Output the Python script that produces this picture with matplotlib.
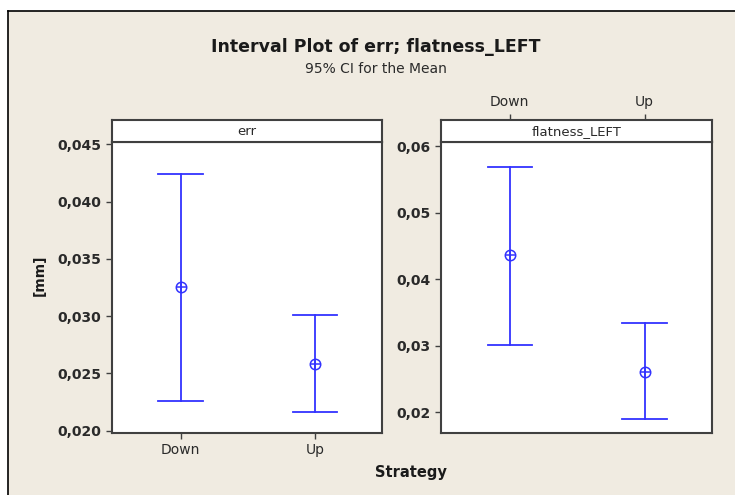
import matplotlib.pyplot as plt
from matplotlib.lines import Line2D
from matplotlib.patches import Rectangle
from matplotlib.ticker import FuncFormatter

# data
groups = ['Down', 'Up']
panels = ['err', 'flatness_LEFT']
means = [[0.03255, 0.02584], [0.04363, 0.0261]]
lower = [[0.0226, 0.02161], [0.03016, 0.0190]]
upper = [[0.04246, 0.03012], [0.05689, 0.03346]]
yticks = [[0.020, 0.025, 0.030, 0.035, 0.040, 0.045],
          [0.02, 0.03, 0.04, 0.05, 0.06]]
ydecimals = [3, 2]
ylims = [(0.0198, 0.04526), (0.01685, 0.06075)]

W, H = 735, 495
bg = '#f0ebe1'
blue = '#3333ff'
frame = '#404040'
txt = '#2a2a2a'

fig = plt.figure(figsize=(W / 100, H / 100), dpi=100, facecolor='white')
fig.add_artist(Rectangle((8 / W, 0), 1, (H - 11) / H, transform=fig.transFigure,
                         facecolor=bg, edgecolor='none', zorder=-10))
fig.add_artist(Line2D([8 / W, 8 / W], [0, (H - 11) / H], transform=fig.transFigure,
                      color='black', lw=1.2))
fig.add_artist(Line2D([8 / W, 1], [(H - 11) / H, (H - 11) / H], transform=fig.transFigure,
                      color='black', lw=1.2))


def box(x0, x1, ytop, ybot):
    return [x0 / W, (H - ybot) / H, (x1 - x0) / W, (ybot - ytop) / H]


lefts = [(112, 382), (441, 712)]
for i, name in enumerate(panels):
    x0, x1 = lefts[i]
    ax = fig.add_axes(box(x0, x1, 141.5, 433))
    st = fig.add_axes(box(x0, x1, 119.5, 141.5))
    x = range(len(groups))
    for j in x:
        ax.plot([j, j], [lower[i][j], upper[i][j]], color=blue, lw=1.3)
        for yv in (lower[i][j], upper[i][j]):
            ax.plot([j - 0.165, j + 0.165], [yv, yv], color=blue, lw=1.3)
    ax.plot(x, means[i], 'o', ms=7.5, mfc='none', mec=blue, mew=1.1)
    ax.plot(x, means[i], '+', ms=7.5, color=blue, mew=1.1)
    ax.set_xlim(-0.51, 1.5)
    ax.set_ylim(*ylims[i])
    ax.set_yticks(yticks[i])
    d = ydecimals[i]
    ax.yaxis.set_major_formatter(FuncFormatter(lambda v, p, d=d: f'{v:.{d}f}'.replace('.', ',')))
    ax.tick_params(axis='y', labelsize=10, labelcolor=txt, color=frame, length=4, width=1)
    for lab in ax.get_yticklabels():
        lab.set_fontweight('bold')
    for s in ax.spines.values():
        s.set_color(frame)
        s.set_linewidth(1.5)
    st.set_xlim(-0.51, 1.5)
    st.set_yticks([])
    st.set_facecolor('white')
    for s in st.spines.values():
        s.set_color(frame)
        s.set_linewidth(1.5)
    st.text(0.5, 0.45, name, transform=st.transAxes, ha='center', va='center',
            fontsize=9.5, color=txt)
    if i == 0:
        ax.set_xticks(list(x))
        ax.set_xticklabels(groups)
        ax.tick_params(axis='x', labelsize=10, labelcolor=txt, color=frame, length=4, width=1)
        st.set_xticks([])
    else:
        ax.set_xticks([])
        st.set_xticks(list(x))
        st.set_xticklabels(groups)
        st.xaxis.tick_top()
        st.tick_params(axis='x', labelsize=10, labelcolor=txt, color=frame, length=4, width=1)

fig.text(376 / W, 1 - 47 / H, 'Interval Plot of err; flatness_LEFT', ha='center', va='center',
         fontsize=12.5, fontweight='bold', color='#1a1a1a')
fig.text(376 / W, 1 - 69 / H, '95% CI for the Mean', ha='center', va='center',
         fontsize=10, color=txt)
fig.text(40 / W, 1 - 275 / H, '[mm]', rotation=90, ha='center', va='center',
         fontsize=10, fontweight='bold', color='#1a1a1a')
fig.text(411 / W, 1 - 472 / H, 'Strategy', ha='center', va='center',
         fontsize=10.5, fontweight='bold', color='#1a1a1a')

fig.savefig('out.png', dpi=100, facecolor=fig.get_facecolor())
